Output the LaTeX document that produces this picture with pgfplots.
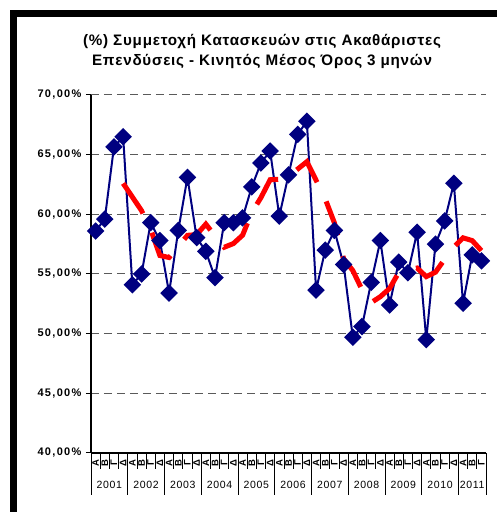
\documentclass[border=0pt]{standalone}
\usepackage{fontspec}
\setmainfont{Liberation Sans}
\usepackage{pgfplots}
\pgfplotsset{compat=1.18}
\definecolor{navyblue}{RGB}{0,0,128}
\definecolor{gridgray}{RGB}{90,90,90}

\begin{document}
\begin{tikzpicture}
\useasboundingbox (0pt,0pt) rectangle (496pt,512pt);
\draw[line width=7pt] (13.5pt,-20pt) -- (13.5pt,498.5pt) -- (520pt,498.5pt);
\node[font=\addfontfeature{LetterSpace=5}\fontsize{15.2}{20}\selectfont\bfseries, align=center] at (262pt,461pt)
  {(\%) Συμμετοχή Κατασκευών στις Ακαθάριστες\\Επενδύσεις - Κινητός Μέσος Όρος 3 μηνών};

\begin{axis}[
  at={(91pt,59pt)}, anchor=south west,
  width=395pt, height=358pt, scale only axis,
  xmin=0, xmax=43, ymin=40, ymax=70,
  axis x line*=bottom, axis y line*=left,
  axis line style={line width=1.2pt, black},
  xtick=\empty,
  ytick={40,45,50,55,60,65,70},
  yticklabels={{40,00\%},{45,00\%},{50,00\%},{55,00\%},{60,00\%},{65,00\%},{70,00\%}},
  yticklabel style={font=\addfontfeature{LetterSpace=12}\fontsize{11}{11}\selectfont\bfseries, xshift=-1pt},
  tick align=outside, major tick length=5pt,
  tick style={black, line width=1pt},
  ymajorgrids, grid style={dash pattern=on 8pt off 5pt, line width=1pt, gridgray},
  clip=false,
]
\addplot[navyblue, line width=2pt, mark=square*, mark size=5.2pt,
  mark options={rotate=45, solid, fill=navyblue, draw=navyblue}] coordinates {
(0.5,58.6) (1.5,59.6) (2.5,65.65) (3.5,66.5) (4.5,54.1) (5.5,55.0) (6.5,59.3) (7.5,57.8)
(8.5,53.4) (9.5,58.65) (10.5,63.1) (11.5,58.05) (12.5,56.9) (13.5,54.7) (14.5,59.3) (15.5,59.3)
(16.5,59.7) (17.5,62.3) (18.5,64.3) (19.5,65.3) (20.5,59.85) (21.5,63.3) (22.5,66.7) (23.5,67.8)
(24.5,53.65) (25.5,57.0) (26.5,58.65) (27.5,55.8) (28.5,49.7) (29.5,50.6) (30.5,54.3) (31.5,57.8)
(32.5,52.4) (33.5,56.0) (34.5,55.1) (35.5,58.5) (36.5,49.5) (37.5,57.5) (38.5,59.45) (39.5,62.6)
(40.5,52.55) (41.5,56.6) (42.5,56.1)
};
\addplot[red, line width=5pt, dash pattern=on 36pt off 21.2pt, no marks] coordinates {
(3.5,62.59) (4.5,61.46) (5.5,60.31) (6.5,58.73) (7.5,56.55) (8.5,56.38) (9.5,57.29) (10.5,58.24)
(11.5,58.30) (12.5,59.18) (13.5,58.19) (14.5,57.24) (15.5,57.55) (16.5,58.25) (17.5,60.15) (18.5,61.40)
(19.5,62.90) (20.5,62.94) (21.5,63.19) (22.5,63.79) (23.5,64.41) (24.5,62.86) (25.5,61.29) (26.5,59.28)
(27.5,56.28) (28.5,55.29) (29.5,53.69) (30.5,52.60) (31.5,53.10) (32.5,53.78) (33.5,55.13) (34.5,55.33)
(35.5,55.50) (36.5,54.78) (37.5,55.15) (38.5,56.24) (39.5,57.26) (40.5,58.03) (41.5,57.80) (42.5,56.96)
};
\end{axis}

% category axis decorations
\foreach \k in {1,...,42} {
  \pgfmathsetmacro\xx{91+395/43*\k}
  \draw[line width=0.8pt] (\xx pt,59pt) -- (\xx pt,43pt);
}
\foreach \k in {0,4,8,12,16,20,24,28,32,36,40,43} {
  \pgfmathsetmacro\xx{91+395/43*\k}
  \draw[line width=0.8pt] (\xx pt,59pt) -- (\xx pt,17pt);
}
\foreach \i in {0,...,42} {
  \pgfmathsetmacro\xx{91+395/43*(\i+0.5)}
  \pgfmathtruncatemacro\q{mod(\i,4)}
  \node[rotate=90, inner sep=0pt, font=\fontsize{9.5}{9.5}\selectfont\bfseries] at (\xx pt,49pt)
    {\ifcase\q Α\or Β\or Γ\or Δ\fi};
}
\foreach \y/\c in {2001/2,2002/6,2003/10,2004/14,2005/18,2006/22,2007/26,2008/30,2009/34,2010/38,2011/41.5} {
  \pgfmathsetmacro\xx{91+395/43*\c}
  \node[inner sep=0pt, font=\addfontfeature{LetterSpace=6}\fontsize{10.5}{10.5}\selectfont] at (\xx pt,27pt) {\y};
}
\end{tikzpicture}
\end{document}
